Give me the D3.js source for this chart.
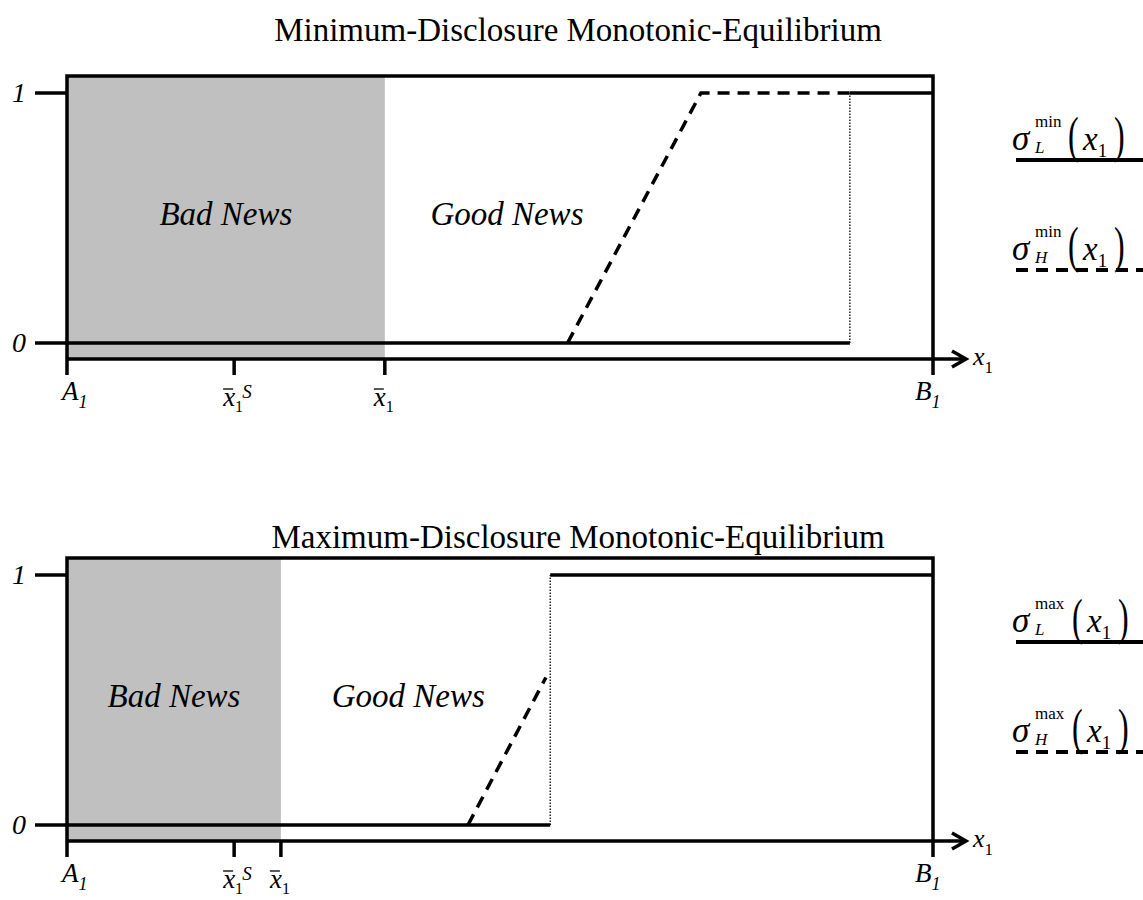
<!DOCTYPE html>
<html>
<head>
<meta charset="utf-8">
<script src="https://cdn.jsdelivr.net/npm/d3@7"></script>
<style>
  body { margin: 0; background: #fff; }
  svg { display: block; font-family: "Liberation Serif", "Times New Roman", serif; }
</style>
</head>
<body>
<div id="chart"></div>
<script>
// DATA ___________________________________________________________
// x runs from A1 (0) to B1 (1), y is the disclosure probability (0..1)
const PANEL_TITLES = ['Minimum-Disclosure Monotonic-Equilibrium', 'Maximum-Disclosure Monotonic-Equilibrium'];
const PANEL_KEYS = ['min', 'max'];
const Y_TICKS = [0, 1];
const Y_TICK_LABELS = ['0', '1'];
const REGION_LABELS = ['Bad News', 'Good News'];

// Minimum-disclosure panel
const MIN_XBAR_S = 0.193;
const MIN_XBAR = 0.367;
const MIN_GOOD_NEWS_X = 0.508;
const MIN_SIGMA_L_LOW = [[0, 0], [0.904, 0]];
const MIN_SIGMA_L_HIGH = [[0.904, 1], [1, 1]];
const MIN_SIGMA_H = [[0.578, 0], [0.732, 1], [0.904, 1]];
const MIN_CUTOFF = 0.904;

// Maximum-disclosure panel
const MAX_XBAR_S = 0.193;
const MAX_XBAR = 0.247;
const MAX_GOOD_NEWS_X = 0.394;
const MAX_SIGMA_L_LOW = [[0, 0], [0.558, 0]];
const MAX_SIGMA_L_HIGH = [[0.558, 1], [1, 1]];
const MAX_SIGMA_H = [[0.463, 0], [0.553, 0.59]];
const MAX_CUTOFF = 0.558;
//________________________________________________________________________________________


// LAYOUT ___________________________________________________________
const WIDTH = 1143, HEIGHT = 900;
const PANEL_TOPS = [76, 558];
const TITLE_BASELINES = [41, 548];
const X0 = 67, X1 = 933;          // A1 .. B1 in px
const Y_ONE = 17, Y_ZERO = 267;   // local y of 1 and 0
const AXIS_Y = 283;               // local y of the x axis line
const TICK_BOTTOM = 299;
const LW = 3.5;
const DASH = '12,8';
//________________________________________________________________________________________

const svg = d3.select('#chart').append('svg')
    .attr('width', WIDTH)
    .attr('height', HEIGHT);

const xScale = d3.scaleLinear().domain([0, 1]).range([X0, X1]);
const yScale = d3.scaleLinear().domain([0, 1]).range([Y_ZERO, Y_ONE]);
const line = d3.line().x(d => xScale(d[0])).y(d => yScale(d[1]));

// small helper for "x-bar" style labels
function xBarLabel(g, x, sup) {
    const t = g.append('text')
        .attr('x', x - 11).attr('y', AXIS_Y + 47)
        .attr('font-size', 27);
    t.append('tspan').attr('font-style', 'italic').text('x');
    t.append('tspan').attr('font-size', 16).attr('dy', 6).text('1');
    if (sup) {
        g.append('text')
            .attr('x', x + 8).attr('y', AXIS_Y + 39)
            .attr('font-size', 19).attr('font-style', 'italic')
            .text(sup);
    }
    g.append('line')
        .attr('x1', x - 11).attr('x2', x - 1)
        .attr('y1', AXIS_Y + 30).attr('y2', AXIS_Y + 30)
        .attr('stroke', '#000').attr('stroke-width', 1.3);
}

function legendEntry(g, y, key, sub, dashed) {
    const t = g.append('text').attr('x', 1012).attr('y', y).attr('font-size', 35);
    t.append('tspan').attr('font-style', 'italic').text('σ');
    g.append('text').attr('x', 1035).attr('y', y - 23).attr('font-size', 17).text(key);
    g.append('text').attr('x', 1035).attr('y', y + 3).attr('font-size', 17)
        .attr('font-style', 'italic').text(sub);
    const px = key === 'min' ? 1068 : 1072;
    g.append('text').attr('transform', `translate(${px},${y + 2}) scale(1,1.6)`)
        .attr('font-size', 32).text('(');
    const tx = g.append('text').attr('x', px + 15).attr('y', y).attr('font-size', 33);
    tx.append('tspan').attr('font-style', 'italic').text('x');
    tx.append('tspan').attr('font-size', 19).attr('dy', 7).text('1');
    g.append('text').attr('transform', `translate(${px + 46},${y + 2}) scale(1,1.6)`)
        .attr('font-size', 32).text(')');
    g.append('line')
        .attr('x1', 1016).attr('x2', WIDTH)
        .attr('y1', y + 10).attr('y2', y + 10)
        .attr('stroke', '#000').attr('stroke-width', 4)
        .attr('stroke-dasharray', dashed ? DASH : null);
}

function drawPanel(i, p) {
    svg.append('text')
        .attr('x', 578).attr('y', TITLE_BASELINES[i])
        .attr('text-anchor', 'middle')
        .attr('font-size', 33)
        .text(PANEL_TITLES[i]);

    const g = svg.append('g').attr('transform', `translate(0,${PANEL_TOPS[i]})`);

    // bad news shading
    g.append('rect')
        .attr('x', xScale(0)).attr('y', 0)
        .attr('width', xScale(p.xbar) - xScale(0))
        .attr('height', AXIS_Y)
        .attr('fill', '#c0c0c0');

    // region labels
    g.append('text')
        .attr('x', (xScale(0) + xScale(p.xbar)) / 2).attr('y', 149)
        .attr('text-anchor', 'middle').attr('font-size', 33).attr('font-style', 'italic')
        .text(REGION_LABELS[0]);
    g.append('text')
        .attr('x', xScale(p.goodX)).attr('y', 149)
        .attr('text-anchor', 'middle').attr('font-size', 33).attr('font-style', 'italic')
        .text(REGION_LABELS[1]);

    // frame: top, left, right
    g.append('path')
        .attr('d', `M${xScale(0)},${TICK_BOTTOM} V0 H${xScale(1)} V${TICK_BOTTOM}`)
        .attr('fill', 'none').attr('stroke', '#000').attr('stroke-width', LW);

    // x axis with arrow
    g.append('line')
        .attr('x1', xScale(0)).attr('x2', 966)
        .attr('y1', AXIS_Y).attr('y2', AXIS_Y)
        .attr('stroke', '#000').attr('stroke-width', LW);
    g.append('path')
        .attr('d', `M952,${AXIS_Y - 8} L966,${AXIS_Y} L952,${AXIS_Y + 8}`)
        .attr('fill', 'none').attr('stroke', '#000').attr('stroke-width', LW);
    const ax = g.append('text').attr('x', 973).attr('y', AXIS_Y + 6).attr('font-size', 26);
    ax.append('tspan').attr('font-style', 'italic').text('x');
    ax.append('tspan').attr('font-size', 17).attr('dy', 8).text('1');

    // x ticks at the thresholds
    [p.xbarS, p.xbar].forEach(v => {
        g.append('line')
            .attr('x1', xScale(v)).attr('x2', xScale(v))
            .attr('y1', AXIS_Y).attr('y2', TICK_BOTTOM)
            .attr('stroke', '#000').attr('stroke-width', LW);
    });
    xBarLabel(g, xScale(p.xbarS), 'S');
    xBarLabel(g, xScale(p.xbar), null);

    // A1, B1
    [[0, 'A', -5], [1, 'B', -18]].forEach(d => {
        const t = g.append('text').attr('x', xScale(d[0]) + d[2]).attr('y', AXIS_Y + 41)
            .attr('font-size', 27).attr('font-style', 'italic');
        t.append('tspan').text(d[1]);
        t.append('tspan').attr('font-size', 18).attr('dy', 8).text('1');
    });

    // y ticks
    Y_TICKS.forEach((v, k) => {
        g.append('line')
            .attr('x1', 35).attr('x2', xScale(0))
            .attr('y1', yScale(v)).attr('y2', yScale(v))
            .attr('stroke', '#000').attr('stroke-width', LW);
        g.append('text')
            .attr('x', 26).attr('y', yScale(v) + 9)
            .attr('text-anchor', 'end')
            .attr('font-size', 28).attr('font-style', 'italic')
            .text(Y_TICK_LABELS[k]);
    });

    // dotted jump at the cutoff
    g.append('line')
        .attr('x1', xScale(p.cutoff)).attr('x2', xScale(p.cutoff))
        .attr('y1', yScale(0)).attr('y2', yScale(1))
        .attr('stroke', '#000').attr('stroke-width', 1.3)
        .attr('stroke-dasharray', '1.5,1.5');

    // sigma_L (solid) and sigma_H (dashed)
    [p.lLow, p.lHigh].forEach(seg => {
        g.append('path').attr('d', line(seg))
            .attr('fill', 'none').attr('stroke', '#000').attr('stroke-width', LW);
    });
    g.append('path').attr('d', line(p.h))
        .attr('fill', 'none').attr('stroke', '#000').attr('stroke-width', LW)
        .attr('stroke-dasharray', DASH);

    // legend
    legendEntry(g, 74, PANEL_KEYS[i], 'L', false);
    legendEntry(g, 184, PANEL_KEYS[i], 'H', true);
}

drawPanel(0, {
    xbarS: MIN_XBAR_S, xbar: MIN_XBAR, goodX: MIN_GOOD_NEWS_X,
    lLow: MIN_SIGMA_L_LOW, lHigh: MIN_SIGMA_L_HIGH, h: MIN_SIGMA_H, cutoff: MIN_CUTOFF
});
drawPanel(1, {
    xbarS: MAX_XBAR_S, xbar: MAX_XBAR, goodX: MAX_GOOD_NEWS_X,
    lLow: MAX_SIGMA_L_LOW, lHigh: MAX_SIGMA_L_HIGH, h: MAX_SIGMA_H, cutoff: MAX_CUTOFF
});
</script>
</body>
</html>
